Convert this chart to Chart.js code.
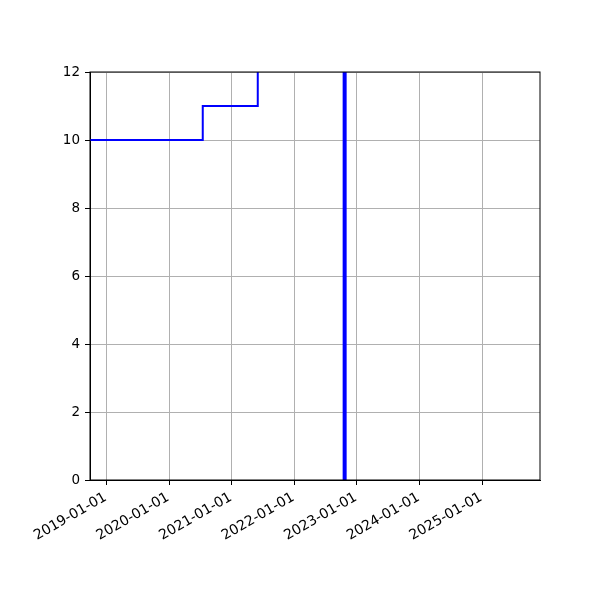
<!DOCTYPE html>
<html>
<head>
<meta charset="utf-8">
<script src="https://cdn.jsdelivr.net/npm/chart.js@4"></script>
<style>
  html, body { margin: 0; padding: 0; background: #fff; }
  #wrap { width: 600px; height: 600px; }
</style>
</head>
<body>
<div id="wrap"><canvas id="myChart" width="600" height="600"></canvas></div>
<script>
// step series (dates where the value changes, and the value from then on)
const stepDates = ['2018-09-26', '2020-07-15', '2021-06-01'];
const stepValues = [10, 11, 13];

// thick vertical marker
const markerDates = ['2022-10-21', '2022-10-21'];
const markerValues = [0, 12];

// x axis ticks and limits
const tickDates = ['2019-01-01', '2020-01-01', '2021-01-01', '2022-01-01',
                   '2023-01-01', '2024-01-01', '2025-01-01'];
const xLimits = ['2018-09-26', '2025-12-04'];
const yLimits = [0, 12];

const toPoints = (dates, values) => dates.map((d, i) => ({ x: Date.parse(d), y: values[i] }));
const fmt = v => new Date(v).toISOString().slice(0, 10);

// black frame round the plot area
const framePlugin = {
    id: 'frame',
    afterDraw(chart) {
        const a = chart.chartArea, ctx = chart.ctx;
        ctx.save();
        ctx.strokeStyle = '#000';
        ctx.lineWidth = 1;
        ctx.strokeRect(a.left, a.top, a.right - a.left, a.bottom - a.top);
        ctx.restore();
    }
};

const ctx = document.getElementById('myChart').getContext('2d');
const myChart = new Chart(ctx, {
    type: 'line',
    data: {
        datasets: [
            {
                data: toPoints(stepDates, stepValues),
                stepped: 'before',
                borderColor: '#0000ff',
                borderWidth: 2,
                pointRadius: 0,
                fill: false
            },
            {
                data: toPoints(markerDates, markerValues),
                borderColor: '#0000ff',
                borderWidth: 4,
                pointRadius: 0,
                fill: false
            }
        ]
    },
    options: {
        responsive: false,
        animation: false,
        layout: { padding: { left: 0, top: 72, right: 60, bottom: 0 } },
        plugins: { legend: { display: false }, tooltip: { enabled: false } },
        scales: {
            x: {
                type: 'linear',
                min: Date.parse(xLimits[0]),
                max: Date.parse(xLimits[1]),
                afterBuildTicks: s => { s.ticks = tickDates.map(d => ({ value: Date.parse(d) })); },
                afterFit: s => { s.height = 120; },
                grid: { color: '#b0b0b0', lineWidth: 1, tickColor: '#000', tickLength: 5 },
                border: { color: '#000' },
                ticks: {
                    autoSkip: false,
                    minRotation: 30,
                    maxRotation: 30,
                    padding: 4,
                    labelOffset: -1,
                    color: '#000',
                    font: { family: 'DejaVu Sans', size: 14 },
                    callback: v => fmt(v)
                }
            },
            y: {
                min: yLimits[0],
                max: yLimits[1],
                afterFit: s => { s.width = 90; },
                grid: { color: '#b0b0b0', lineWidth: 1, tickColor: '#000', tickLength: 5 },
                border: { color: '#000' },
                ticks: {
                    stepSize: 2,
                    padding: 5,
                    color: '#000',
                    font: { family: 'DejaVu Sans', size: 13.5 }
                }
            }
        }
    },
    plugins: [framePlugin]
});
</script>
</body>
</html>
